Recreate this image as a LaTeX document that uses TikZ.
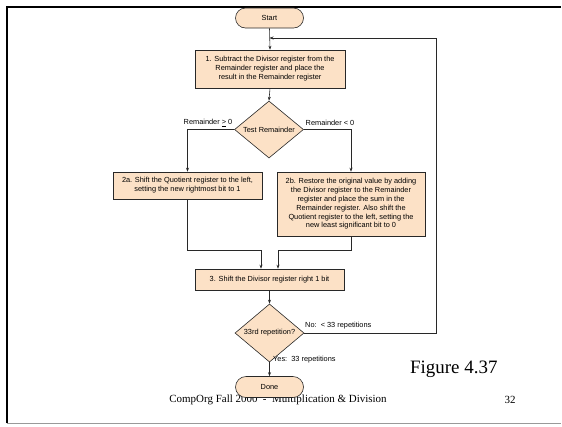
\documentclass[tikz,border=0pt]{standalone}
\usepackage{fontspec}
\setmainfont{Liberation Serif}
\newfontfamily\arialf{Liberation Sans}
\usetikzlibrary{shapes.geometric,shapes.misc,arrows.meta,calc}
\definecolor{peach}{RGB}{252,225,198}
\definecolor{edge}{RGB}{40,40,40}
\tikzset{
  base/.style={draw=edge,line width=0.6pt,fill=peach,font=\arialf\fontsize{7.4}{9}\selectfont,align=center,inner sep=0pt},
  procbox/.style={base,rectangle},
  termbox/.style={base,rounded rectangle,minimum width=68bp,minimum height=20bp},
  decbox/.style={base,diamond,minimum width=69bp,minimum height=46bp},
  conn/.style={draw=edge,line width=0.6pt,-{Stealth[length=4pt,width=3pt]}},
  lbl/.style={font=\arialf\fontsize{7.4}{8}\selectfont,inner sep=0pt}
}
\begin{document}
\begin{tikzpicture}[x=1bp,y=-1bp]
\useasboundingbox (0,0) rectangle (562,426);
% frame
\draw[line width=2bp,black] (6.5,423) -- (6.5,6.5) -- (561,6.5);
\draw[line width=1bp,gray!80] (6.5,423) -- (561,423);
% slide text (under the flowchart)
\node[font=\fontsize{19}{21}\selectfont,anchor=west,inner sep=0pt] (fig) at (410,369) {Figure 4.37};
\node[font=\fontsize{11}{13}\selectfont,inner sep=0pt] (foot) at (278,400) {CompOrg Fall 2000\ \ -\ \ Multiplication \& Division};
\node[font=\fontsize{11}{13}\selectfont,inner sep=0pt] (pg) at (510,400) {32};
% nodes
\node[termbox] (start) at (269.5,18) {Start};
\node[procbox,minimum width=150bp,minimum height=38bp] (b1) at (270,69)
  {1. Subtract the Divisor register from the\\Remainder register and place the\\result in the Remainder register};
\node[decbox,minimum height=47bp] (d1) at (269,129.5) {Test Remainder};
\node[procbox,minimum width=149bp,minimum height=27bp] (b2a) at (187.5,185.5)
  {2a. Shift the Quotient register to the left,\\setting the new rightmost bit to 1};
\node[procbox,minimum width=148bp,minimum height=64bp,font=\arialf\fontsize{7.4}{8.8}\selectfont] (b2b) at (351,204)
  {2b. Restore the original value by adding\\the Divisor register to the Remainder\\register and place the sum in the\\Remainder register. Also shift the\\Quotient register to the left, setting the\\new least significant bit to 0};
\node[procbox,minimum width=149bp,minimum height=21bp] (b3) at (269.5,279.5)
  {3. Shift the Divisor register right 1 bit};
\node[decbox,minimum height=44bp] (d2) at (269.5,333) {33rd repetition?};
\node[termbox,minimum height=21bp] (done) at (269.5,387) {Done};
% connectors
\draw[conn] (start.south) -- (b1.north);
\draw[conn] (b1.south) -- (d1.north);
\draw[conn] (d1.west) -| (b2a.north);
\draw[conn] (d1.east) -| (b2b.north);
\coordinate (j1) at (261,250);
\coordinate (j2) at (278,250);
\draw[conn] (b2a.south) |- (j1) -- (j1 |- b3.north);
\draw[conn] (b2b.south) |- (j2) -- (j2 |- b3.north);
\draw[conn] (b3.south) -- (d2.north);
\draw[conn] (d2.south) -- (done.north);
\coordinate (lp) at (436,38);
\draw[conn] (d2.east) -| (lp) -- (lp -| start.south);
% labels
\node[lbl] (l1) at (208,123) {Remainder \underline{>} 0};
\node[lbl] (l2) at (330,123) {Remainder < 0};
\node[lbl,anchor=west] (l3) at (305,326) {No:\ \ < 33 repetitions};
\node[lbl,anchor=west] (l4) at (273,360) {Yes:\ \ 33 repetitions};
\end{tikzpicture}
\end{document}
